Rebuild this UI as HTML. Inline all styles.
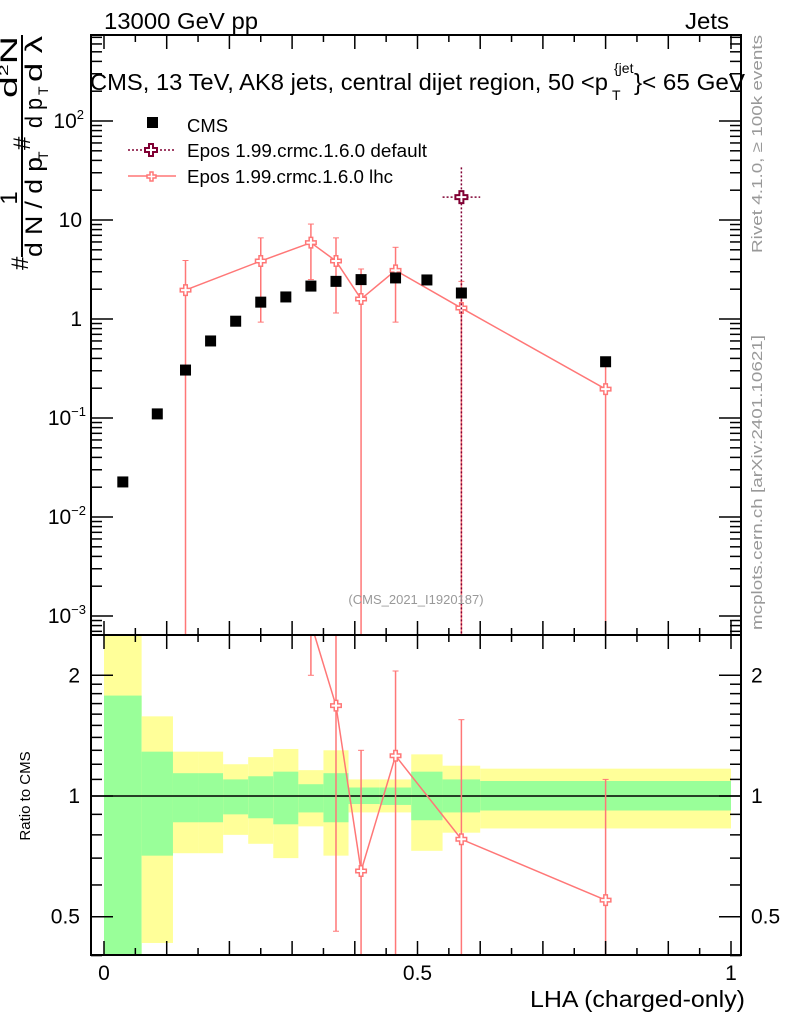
<!DOCTYPE html>
<html><head><meta charset="utf-8"><style>
html,body{margin:0;padding:0;background:#fff;width:786px;height:1024px;overflow:hidden;}
svg{display:block;font-family:"Liberation Sans",sans-serif;}
</style></head><body>
<svg id="c" width="786" height="1024" viewBox="0 0 786 1024" xmlns="http://www.w3.org/2000/svg">
<defs>
<clipPath id="clipTop"><rect x="91" y="35" width="650" height="600"/></clipPath>
<clipPath id="clipBot"><rect x="91" y="635" width="650" height="320"/></clipPath>
</defs>
<g id="bands" clip-path="url(#clipBot)"></g>
<g id="ratioG" clip-path="url(#clipBot)"></g>
<g id="topG" clip-path="url(#clipTop)"></g>
<g id="axes"></g>
<text x="104" y="29" font-size="23" textLength="154" lengthAdjust="spacingAndGlyphs">13000 GeV pp</text>
<text x="685" y="29" font-size="23" textLength="44" lengthAdjust="spacingAndGlyphs">Jets</text>
<text x="90" y="90" font-size="23"><tspan textLength="518" lengthAdjust="spacingAndGlyphs">CMS, 13 TeV, AK8 jets, central dijet region, 50 &lt;p</tspan><tspan font-size="14" x="614" y="73">{jet</tspan><tspan font-size="14" x="612" y="100">T</tspan><tspan x="634" y="90" textLength="111" lengthAdjust="spacingAndGlyphs">}&lt; 65 GeV</tspan></text>
<text x="416" y="604" font-size="13" fill="#999" text-anchor="middle">(CMS_2021_I1920187)</text>
<text transform="translate(762,253) rotate(-90)" font-size="15" fill="#999" textLength="218" lengthAdjust="spacingAndGlyphs">Rivet 4.1.0, ≥ 100k events</text>
<text transform="translate(762,630) rotate(-90)" font-size="15" fill="#999" textLength="295" lengthAdjust="spacingAndGlyphs">mcplots.cern.ch [arXiv:2401.10621]</text>
<g font-size="24">
<line x1="22" y1="35" x2="22" y2="257" stroke="#000" stroke-width="2"/>
<text transform="translate(28,270) rotate(-90)">#</text>
<text transform="translate(17,198) rotate(-90)" text-anchor="middle">1</text>
<text transform="translate(17,98) rotate(-90)" textLength="62" lengthAdjust="spacingAndGlyphs">d<tspan font-size="13" dy="-9">2</tspan><tspan dy="9">N</tspan></text>
<text transform="translate(42,257) rotate(-90)" textLength="100" lengthAdjust="spacingAndGlyphs">d N / d p</text>
<text transform="translate(48,160) rotate(-90)" font-size="14">T</text>
<text transform="translate(30,150) rotate(-90)">#</text>
<text transform="translate(42,128) rotate(-90)" textLength="30" lengthAdjust="spacingAndGlyphs">d p</text>
<text transform="translate(48,95) rotate(-90)" font-size="14">T</text>
<text transform="translate(42,82) rotate(-90)" textLength="46" lengthAdjust="spacingAndGlyphs">d λ</text>
</g>
<text x="30" y="796" font-size="15" transform="rotate(-90 30 796)" text-anchor="middle">Ratio to CMS</text>
<text x="530" y="1007" font-size="23" textLength="215" lengthAdjust="spacingAndGlyphs">LHA (charged-only)</text>
<g>
<g><rect x="147" y="117" width="11" height="11" fill="#000"/><text x="187" y="132" font-size="18" textLength="41" lengthAdjust="spacingAndGlyphs">CMS</text></g>
<g><line x1="128" y1="150" x2="176" y2="150" stroke="#800033" stroke-width="1.5" stroke-dasharray="2,2"/><path d="M149,144h4v4h4v4h-4v4h-4v-4h-4v-4h4z" fill="#fff" stroke="#800033" stroke-width="2"/><text x="187" y="157" font-size="18" textLength="240" lengthAdjust="spacingAndGlyphs">Epos 1.99.crmc.1.6.0 default</text></g>
<g><line x1="128" y1="176" x2="176" y2="176" stroke="#f77" stroke-width="1.5"/><path d="M150,172h3v3h3v3h-3v3h-3v-3h-3v-3h3z" fill="#fff" stroke="#f77" stroke-width="1.5"/><text x="187" y="183" font-size="18" textLength="206" lengthAdjust="spacingAndGlyphs">Epos 1.99.crmc.1.6.0 lhc</text></g>
</g>
</svg>
<script>
const cmsX=[0.03,0.085,0.13,0.17,0.21,0.25,0.29,0.33,0.37,0.41,0.465,0.515,0.57,0.8];
const cmsY=[0.0226,0.11,0.305,0.6,0.95,1.48,1.67,2.15,2.4,2.5,2.6,2.48,1.83,0.37];
const lhcX=[0.13,0.25,0.33,0.37,0.41,0.465,0.57,0.8];
const lhcY=[1.96,3.85,5.9,3.85,1.59,3.1,1.29,0.196];
const lhcUp=[3.9,6.6,9.1,6.6,3.2,5.3,2.4,0.37];
const lhcDn=[0.0001,0.93,2.5,1.15,0.0001,0.93,0.0001,0.0001];
const defX=[0.57];const defY=[17];const defUp=[34];const defDn=[0.0001];const defXlo=[0.54];const defXhi=[0.6];
const binEdges=[0,0.06,0.11,0.15,0.19,0.23,0.27,0.31,0.35,0.39,0.44,0.49,0.54,0.6,1.0];
const yelUp=[3,1.58,1.29,1.29,1.2,1.25,1.31,1.16,1.3,1.1,1.1,1.27,1.19,1.17];
const yelDn=[0.3,0.43,0.72,0.72,0.8,0.76,0.7,0.84,0.71,0.91,0.91,0.73,0.81,0.83];
const grnUp=[1.78,1.29,1.14,1.14,1.1,1.12,1.15,1.07,1.14,1.05,1.05,1.15,1.1,1.09];
const grnDn=[0.3,0.71,0.86,0.86,0.9,0.88,0.85,0.91,0.86,0.955,0.95,0.87,0.91,0.92];
const ratX=[0.33,0.37,0.41,0.465,0.57,0.8];
const ratY=[2.7,1.68,0.65,1.26,0.78,0.55];
const ratUp=[4,3,1.3,2.05,1.55,1.1];
const ratDn=[2,0.46,0.1,0.1,0.1,0.1];
const NS='http://www.w3.org/2000/svg';
const X=v=>104+627*v;
const YT=v=>319-99*Math.log10(v);
const YR=v=>796-401*Math.log10(v);
function mk(p,t,a){const e=document.createElementNS(NS,t);for(const k in a)e.setAttribute(k,a[k]);p.appendChild(e);return e;}
const bands=document.getElementById('bands'),ratioG=document.getElementById('ratioG'),topG=document.getElementById('topG'),axes=document.getElementById('axes');
for(let i=0;i<binEdges.length-1;i++){
 const x0=X(binEdges[i]),x1=X(binEdges[i+1]);
 let r=mk(bands,'rect',{x:x0,y:YR(yelUp[i]),width:x1-x0,height:YR(yelDn[i])-YR(yelUp[i]),fill:'#ffff99'});
 
 
 r=mk(bands,'rect',{x:x0,y:YR(grnUp[i]),width:x1-x0,height:YR(grnDn[i])-YR(grnUp[i]),fill:'#99ff99'});
 
 
}
mk(bands,'line',{x1:91,x2:741,y1:YR(1),y2:YR(1),stroke:'#000','stroke-width':1.5});
function cross(g,x,y,s,col,w){return mk(g,'path',{d:`M${x-s/2},${y-s*1.5}h${s}v${s}h${s}v${s}h${-s}v${s}h${-s}v${-s}h${-s}v${-s}h${s}z`,fill:'#fff',stroke:col,'stroke-width':w});}
let pts=ratX.map((v,i)=>X(v)+','+YR(ratY[i])).join(' ');
mk(ratioG,'polyline',{points:pts,fill:'none',stroke:'#f77','stroke-width':1.5});
ratX.forEach((v,i)=>{
 const l=mk(ratioG,'line',{x1:X(v),x2:X(v),y1:YR(ratUp[i]),y2:YR(ratDn[i]),stroke:'#f77','stroke-width':1.5});
 
 
 mk(ratioG,'line',{x1:X(v)-3,x2:X(v)+3,y1:YR(ratUp[i]),y2:YR(ratUp[i]),stroke:'#f77'});
 mk(ratioG,'line',{x1:X(v)-3,x2:X(v)+3,y1:YR(ratDn[i]),y2:YR(ratDn[i]),stroke:'#f77'});
 const c=cross(ratioG,X(v),YR(ratY[i]),3.5,'#f77',1.5);
 
 
});
pts=lhcX.map((v,i)=>X(v)+','+YT(lhcY[i])).join(' ');
mk(topG,'polyline',{points:pts,fill:'none',stroke:'#f77','stroke-width':1.5});
lhcX.forEach((v,i)=>{
 const l=mk(topG,'line',{x1:X(v),x2:X(v),y1:YT(lhcUp[i]),y2:YT(lhcDn[i]),stroke:'#f77','stroke-width':1.5});
 
 
 mk(topG,'line',{x1:X(v)-3,x2:X(v)+3,y1:YT(lhcUp[i]),y2:YT(lhcUp[i]),stroke:'#f77'});
 mk(topG,'line',{x1:X(v)-3,x2:X(v)+3,y1:YT(lhcDn[i]),y2:YT(lhcDn[i]),stroke:'#f77'});
 const c=cross(topG,X(v),YT(lhcY[i]),3.5,'#f77',1.5);
 
 
});
defX.forEach((v,i)=>{
 const l=mk(topG,'line',{x1:X(v),x2:X(v),y1:YT(defUp[i]),y2:YT(defDn[i]),stroke:'#800033','stroke-width':1.5,'stroke-dasharray':'2,2'});
 
 
 mk(topG,'line',{x1:X(defXlo[i]),x2:X(defXhi[i]),y1:YT(defY[i]),y2:YT(defY[i]),stroke:'#800033','stroke-width':1.5,'stroke-dasharray':'2,2'});
 const c=cross(topG,X(v),YT(defY[i]),4,'#800033',2);
 
 
});
cmsX.forEach((v,i)=>{
 const r=mk(topG,'rect',{x:X(v)-5.5,y:YT(cmsY[i])-5.5,width:11,height:11,fill:'#000'});
 
 
});
[[35,635],[635,955]].forEach(([t,b])=>mk(axes,'rect',{x:91,y:t,width:650,height:b-t,fill:'none',stroke:'#000','stroke-width':2}));
for(let k=0;k<=20;k++){const v=k*0.05,x=X(v),L=(k%2==0)?14:7;
 [[35,1],[635,-1],[635,1],[955,-1]].forEach(([y,d])=>mk(axes,'line',{x1:x,x2:x,y1:y,y2:y+d*L,stroke:'#000','stroke-width':1.5}));}
const xlab=[0,0.5,1],xlabT=['0','0.5','1'];
xlab.forEach((v,i)=>{const t=mk(axes,'text',{x:X(v),y:980,'font-size':21,'text-anchor':'middle'});t.textContent=xlabT[i];
 
 });
for(let e=-4;e<=2;e++)for(let m=1;m<=9;m++){const v=m*Math.pow(10,e),y=YT(v);if(y<35||y>635)continue;const L=m==1?22:11;
 mk(axes,'line',{x1:91,x2:91+L,y1:y,y2:y,stroke:'#000','stroke-width':1.5});mk(axes,'line',{x1:741,x2:741-L,y1:y,y2:y,stroke:'#000','stroke-width':1.5});}
const ylabV=[100,10,1,0.1,0.01,0.001];
const ylabB=['10','10','1','10','10','10'];const ylabS=['2','','','−1','−2','−3'];
ylabV.forEach((v,i)=>{const t=mk(axes,'text',{x:ylabS[i]?86:82,y:YT(v)+7,'font-size':21,'text-anchor':'end'});
 
 
 if(ylabS[i]){t.innerHTML=ylabB[i]+'<tspan font-size="13" dy="-9">'+ylabS[i]+'</tspan>';t.setAttribute('x',ylabS[i].length>1?86:84);}else t.textContent=ylabB[i];});
const rt=[0.4,0.5,0.6,0.7,0.8,0.9,1,1.1,1.2,1.3,1.4,1.5,1.6,1.7,1.8,1.9,2];
rt.forEach(v=>{const y=YR(v),L=(v==0.5||v==1||v==2)?22:11;
 mk(axes,'line',{x1:91,x2:91+L,y1:y,y2:y,stroke:'#000','stroke-width':1.5});mk(axes,'line',{x1:741,x2:741-L,y1:y,y2:y,stroke:'#000','stroke-width':1.5});});
const rlabV=[2,1,0.5],rlabT=['2','1','0.5'];
rlabV.forEach((v,i)=>{[[80,'end'],[751,'start']].forEach(([x,a])=>{const t=mk(axes,'text',{x:x,y:YR(v)+7,'font-size':21,'text-anchor':a});t.textContent=rlabT[i];
 
 });});
</script>
</body></html>
